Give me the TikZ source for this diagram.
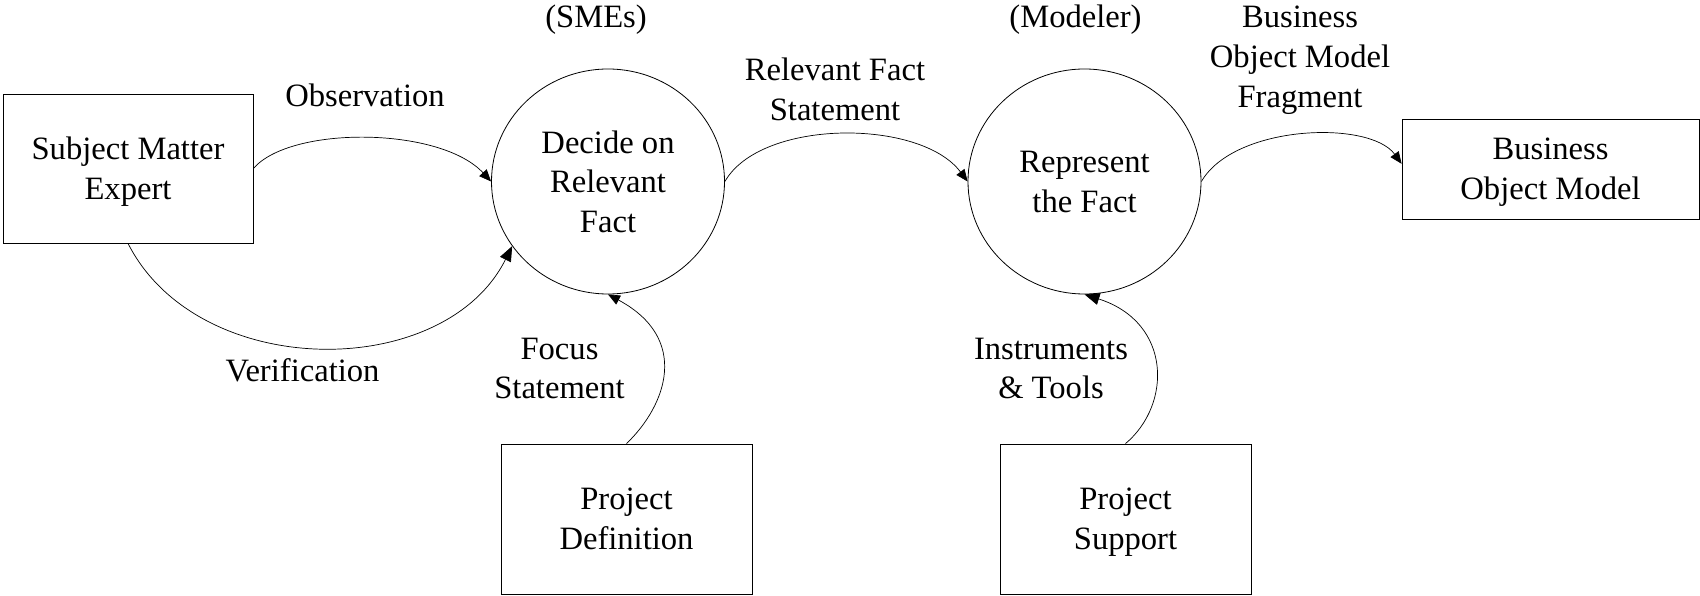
\documentclass[tikz,border=0pt]{standalone}
\usepackage{fontspec}
\setmainfont{Liberation Serif}
\usetikzlibrary{arrows.meta,shapes.geometric}

\begin{document}
\begin{tikzpicture}[
  x=1pt, y=-1pt,
  every node/.style={font=\fontsize{32.6}{39.8}\selectfont, align=center},
  entity/.style={draw, line width=0.8pt, inner sep=0pt, text depth=0pt},
  process/.style={draw, ellipse, line width=0.8pt, inner sep=0pt, text depth=0pt,
                  minimum width=233pt, minimum height=225pt},
  lbl/.style={inner sep=0pt},
  flow/.style={line width=0.7pt, -{Triangle[length=12pt, width=10pt]}},
  bigflow/.style={line width=0.7pt, -{Triangle[length=15pt, width=12pt]}}
]
\useasboundingbox (0,0) rectangle (1700,596);

% external entities
\node[entity, minimum width=250pt, minimum height=149pt] (sme)  at (128,168.5)   {Subject Matter\\Expert};
\node[entity, minimum width=297pt, minimum height=100pt] (bom)  at (1550.5,169)  {Business\\Object Model};
\node[entity, minimum width=251pt, minimum height=150pt] (pdef) at (626.5,519)   {Project\\Definition};
\node[entity, minimum width=251pt, minimum height=150pt] (psup) at (1125.5,519)  {Project\\Support};

% processes
\node[process] (decide) at (608,181.5)    {Decide on\\Relevant\\Fact};
\node[process] (repr)   at (1084.5,181.5) {Represent\\the Fact};

% role annotations
\node[lbl] (smes)    at (596,19.5)    {(SMEs)};
\node[lbl] (modeler) at (1075.5,19.5) {(Modeler)};

% flow labels
\node[lbl] (obs)   at (365,95)    {Observation};
\node[lbl] (ver)   at (302.5,370) {Verification};
\node[lbl] (rfs)   at (835,89)    {Relevant Fact\\Statement};
\node[lbl, text depth=0pt] (frag)  at (1300,57)   {Business\\Object Model\\Fragment};
\node[lbl] (focus) at (559.5,368.5) {Focus\\Statement};
\node[lbl] (tools) at (1051,368.5)  {Instruments\\\& Tools};

% flows
\draw[flow] (sme.east) .. controls +(37,-43) and +(-51,-55) .. (decide.west);
\draw[bigflow] (sme.south) .. controls +(70,138) and +(-68,136) .. (decide.214);
\draw[flow] (decide.east) .. controls +(36,-63) and +(-47,-63) .. (repr.west);
\draw[flow] (repr.east) .. controls +(33,-57) and +(-32,-44) .. (bom.178.5);
\draw[flow] (pdef.north) .. controls +(40.5,-39) and +(82,44) .. (decide.south);
\draw[bigflow] (psup.north) .. controls +(46.5,-39) and +(87.5,28) .. (repr.south);
\end{tikzpicture}
\end{document}
